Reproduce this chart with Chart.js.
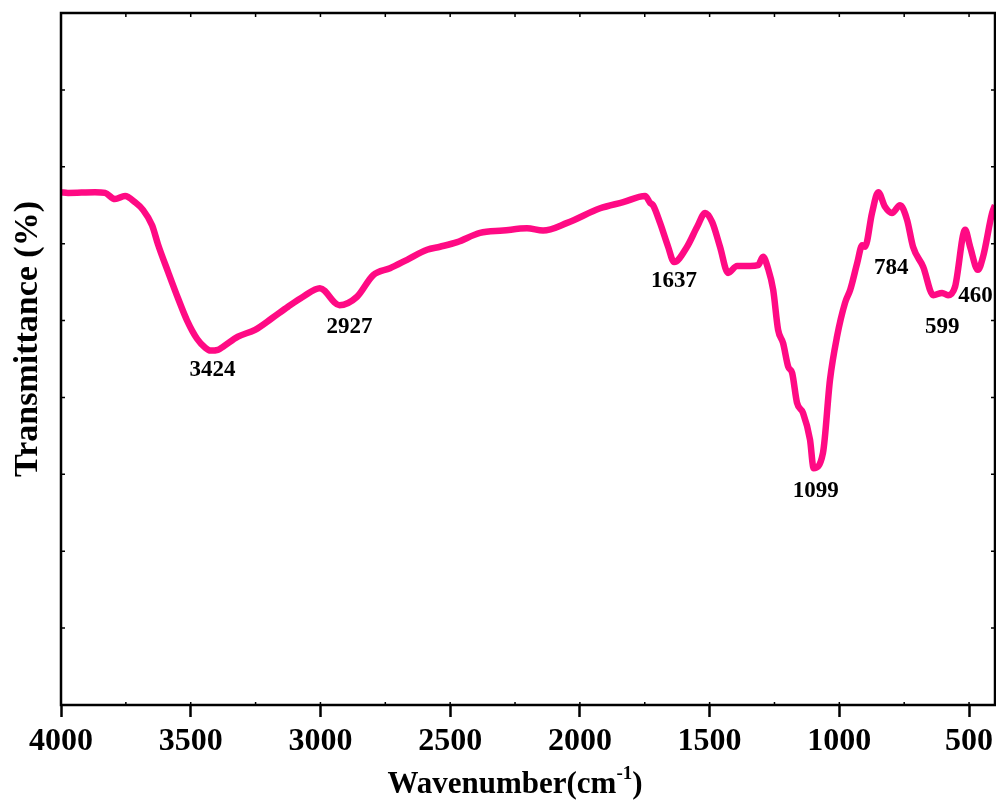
<!DOCTYPE html>
<html>
<head>
<meta charset="utf-8">
<script src="https://cdn.jsdelivr.net/npm/chart.js@4/dist/chart.umd.min.js"></script>
<style>
  html, body { margin: 0; padding: 0; background: #fff; }
  #wrap { width: 996px; height: 802px; }
</style>
</head>
<body>
<div id="wrap"><canvas id="ftir" width="996" height="802"></canvas></div>
<script>
// FTIR spectrum
const wavenumbers = [
  4000, 3973, 3869, 3830, 3792, 3753, 3715, 3684, 3649, 3626, 3587, 3549, 3514, 3475, 3445,
  3424, 3395, 3375, 3318, 3252, 3187, 3125, 3067, 3002, 2927, 2859, 2797, 2732, 2666, 2589,
  2539, 2473, 2385, 2296, 2204, 2142, 2049, 1922, 1833, 1749, 1729, 1718, 1691, 1660, 1637,
  1587, 1548, 1517, 1490, 1460, 1429, 1394, 1344, 1313, 1294, 1275, 1255, 1236, 1217, 1197,
  1182, 1163, 1140, 1113, 1099, 1063, 1036, 1009, 978, 958, 931, 912, 901, 874, 850,
  824, 797, 766, 739, 716, 677, 638, 604, 581, 554, 515, 496, 466, 446, 411, 400,
]
const transmittance = [
  66.7, 66.6, 66.7, 66.6, 65.8, 66.2, 65.4, 64.4, 62.4, 59.9, 56.3, 52.9, 50.0, 47.6, 46.5,
  46.1, 46.2, 46.6, 47.9, 48.8, 50.3, 51.8, 53.1, 54.2, 52.0, 53.1, 55.9, 56.8, 57.9, 59.2,
  59.6, 60.2, 61.4, 61.7, 62.0, 61.7, 62.7, 64.6, 65.4, 66.2, 65.3, 65.0, 62.7, 59.6, 57.6,
  59.6, 62.2, 64.0, 62.8, 59.6, 56.2, 57.1, 57.1, 57.2, 58.3, 56.8, 54.0, 48.8, 47.1, 44.0,
  43.2, 39.3, 38.0, 34.5, 30.8, 32.8, 42.3, 47.9, 52.3, 54.0, 57.5, 59.8, 59.6, 64.0, 66.7,
  64.8, 64.0, 65.0, 63.1, 59.6, 57.0, 53.3, 53.6, 53.3, 54.4, 61.8, 59.6, 56.6, 58.3, 64.0, 65.0,
]
const peakWavenumbers = [3424, 2927, 1637, 1099, 784, 599, 460]
const xTicks = { min: 400, max: 4000, step: 250, first: 500, labelEvery: 500 }
const yTicks = { min: 0, max: 90, step: 10 }

const serif = '"Liberation Serif", "Times New Roman", serif'

// nudges for the peak labels, in pixels from the curve
const labelOffsets = {
  3424: [2, 20], 2927: [10, 22], 1637: [0, 19], 1099: [2, 23],
  784: [-4, 55], 599: [-1, 34], 460: [-4, 26],
}

const nearestIndex = (wn) => {
  let best = 0
  wavenumbers.forEach((w, i) => {
    if (Math.abs(w - wn) < Math.abs(wavenumbers[best] - wn)) best = i
  })
  return best
}

const framePlugin = {
  id: 'frame',
  afterDraw(chart) {
    const { ctx, chartArea: a, scales } = chart
    const x = scales.x, y = scales.y
    ctx.save()
    ctx.strokeStyle = '#000'
    ctx.lineWidth = 2.5
    ctx.strokeRect(a.left, a.top, a.right - a.left, a.bottom - a.top)

    // small inward ticks on all four sides
    ctx.lineWidth = 1.5
    ctx.beginPath()
    for (let v = xTicks.first; v <= xTicks.max; v += xTicks.step) {
      const px = x.getPixelForValue(v)
      ctx.moveTo(px, a.top); ctx.lineTo(px, a.top + 4)
      ctx.moveTo(px, a.bottom); ctx.lineTo(px, a.bottom - 3)
    }
    for (let v = yTicks.min; v <= yTicks.max; v += yTicks.step) {
      const py = y.getPixelForValue(v)
      ctx.moveTo(a.left, py); ctx.lineTo(a.left + 4, py)
      ctx.moveTo(a.right, py); ctx.lineTo(a.right - 4, py)
    }
    ctx.stroke()

    // peak labels
    ctx.fillStyle = '#000'
    ctx.font = 'bold 23px ' + serif
    ctx.textAlign = 'center'
    ctx.textBaseline = 'middle'
    peakWavenumbers.forEach((wn) => {
      const i = nearestIndex(wn)
      const [dx, dy] = labelOffsets[wn]
      ctx.fillText(String(wn), x.getPixelForValue(wn) + dx, y.getPixelForValue(transmittance[i]) + dy)
    })

    // y axis title
    ctx.save()
    ctx.translate(28, 339)
    ctx.rotate(-Math.PI / 2)
    ctx.font = 'bold 34px ' + serif
    ctx.fillText('Transmittance (%)', 0, 0)
    ctx.restore()

    // x axis title with superscript
    const main = 'Wavenumber(cm'
    const sup = '-1'
    const close = ')'
    ctx.textAlign = 'left'
    ctx.textBaseline = 'alphabetic'
    ctx.font = 'bold 31px ' + serif
    const wMain = ctx.measureText(main).width
    const wClose = ctx.measureText(close).width
    ctx.font = 'bold 19px ' + serif
    const wSup = ctx.measureText(sup).width
    const total = wMain + wSup + wClose
    const base = 793
    let tx = 515 - total / 2
    ctx.font = 'bold 31px ' + serif
    ctx.fillText(main, tx, base)
    tx += wMain
    ctx.font = 'bold 19px ' + serif
    ctx.fillText(sup, tx, base - 14)
    tx += wSup
    ctx.font = 'bold 31px ' + serif
    ctx.fillText(close, tx, base)
    ctx.restore()
  },
}

const points = wavenumbers.map((wn, i) => ({ x: wn, y: transmittance[i] }))

new Chart(document.getElementById('ftir'), {
  type: 'line',
  data: {
    datasets: [{
      data: points,
      borderColor: '#FF0A84',
      borderWidth: 6.5,
      pointRadius: 0,
      cubicInterpolationMode: 'monotone',
      fill: false,
    }],
  },
  options: {
    responsive: false,
    animation: false,
    layout: { padding: { top: 13, right: 1, left: 0, bottom: 0 } },
    plugins: {
      legend: { display: false },
      tooltip: { enabled: false },
    },
    scales: {
      x: {
        type: 'linear',
        reverse: true,
        min: xTicks.min,
        max: xTicks.max,
        border: { display: false },
        grid: {
          drawOnChartArea: false,
          tickLength: 12,
          tickWidth: 2.5,
          tickColor: (c) => (c.tick && c.tick.value % xTicks.labelEvery === 0 ? '#000' : 'rgba(0,0,0,0)'),
        },
        ticks: {
          autoSkip: false,
          maxRotation: 0,
          padding: 6,
          color: '#000',
          font: { family: serif, size: 32, weight: 'bold' },
          callback: (v) => (v % xTicks.labelEvery === 0 ? String(v) : ''),
        },
        afterBuildTicks: (scale) => {
          const ticks = []
          for (let v = xTicks.first; v <= xTicks.max; v += xTicks.step) ticks.push({ value: v })
          scale.ticks = ticks
        },
        afterFit: (scale) => {
          scale.height = 97
          scale.paddingLeft = 0
          scale.paddingRight = 0
        },
      },
      y: {
        min: yTicks.min,
        max: yTicks.max,
        border: { display: false },
        grid: { display: false },
        ticks: { display: false, stepSize: yTicks.step },
        afterFit: (scale) => { scale.width = 61 },
      },
    },
  },
  plugins: [framePlugin],
})
</script>
</body>
</html>
